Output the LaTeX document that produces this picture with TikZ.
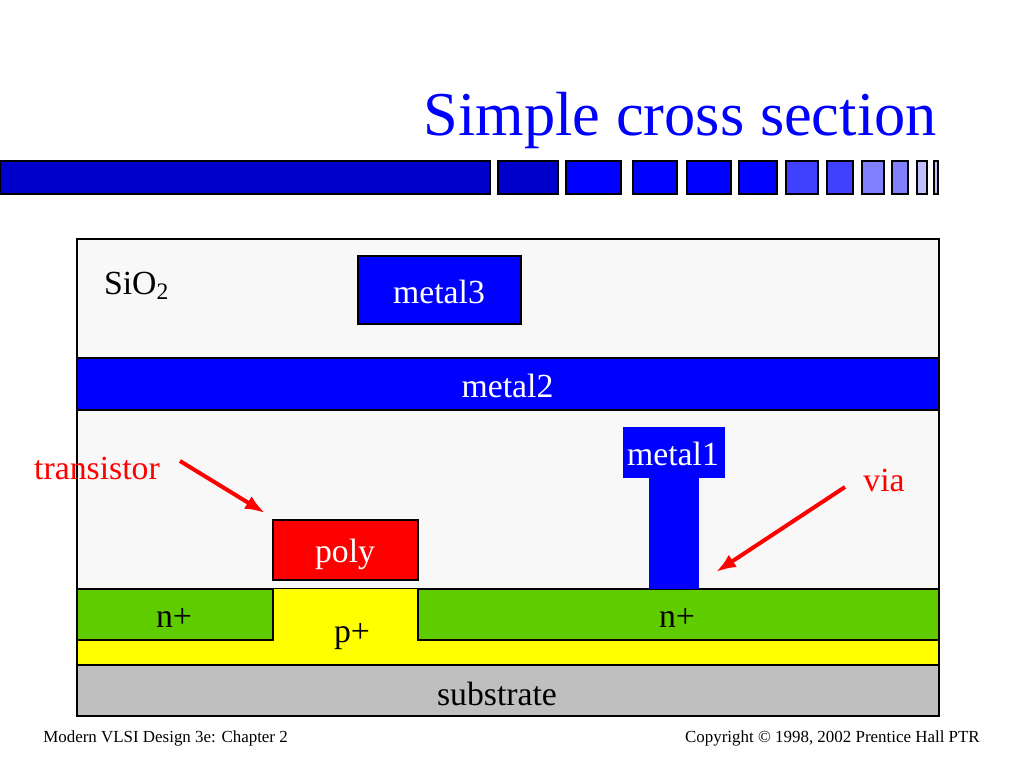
\documentclass[tikz,border=0pt]{standalone}
\usepackage{fontspec}
\setmainfont{Liberation Serif}
\usetikzlibrary{arrows.meta}
\definecolor{vlsiblue}{RGB}{0,0,255}
\definecolor{vlsinavy}{RGB}{0,0,204}
\definecolor{vlsimid}{RGB}{64,64,255}
\definecolor{vlsisoft}{RGB}{128,128,255}
\definecolor{vlsipale}{RGB}{191,191,255}
\definecolor{vlsigreen}{RGB}{95,204,0}
\definecolor{vlsigray}{RGB}{191,191,191}
\definecolor{vlsioxide}{RGB}{248,248,248}
\definecolor{vlsiyellow}{RGB}{255,255,0}
\definecolor{vlsired}{RGB}{255,0,0}
\tikzset{
  size/.style 2 args={minimum width={(#1)*0.75pt}, minimum height={(#2)*0.75pt}},
  layer/.style={rectangle, draw=black, line width=0.85pt, inner sep=0pt, outer sep=0pt},
  tag/.style={inner sep=0pt, font=\fontsize{25.3}{30}\selectfont},
  foot/.style={inner sep=0pt, font=\fontsize{12.7}{15}\selectfont},
  rarr/.style={-{Latex[length=15pt,width=11pt]}, line width=3pt, vlsired},
}

\begin{document}
\begin{tikzpicture}[x=0.75pt,y=-0.75pt]
  \useasboundingbox (0,0) rectangle (1024,768);
  \node[inner sep=0pt,text=vlsiblue,font=\fontsize{46.8}{56}\selectfont,anchor=east](title) at (937,120){Simple cross section};
  % strip under the title
  \foreach \l/\r/\c in {0.5/490/vlsinavy,498/558/vlsinavy,566/621/vlsiblue,633/677/vlsiblue,687/731/vlsiblue,739/777/vlsiblue,786/818/vlsimid,827/853/vlsimid,862/884/vlsisoft,892/908/vlsisoft,917/927/vlsipale,934/938/vlsipale}
    \node[layer,fill=\c,size={\r-\l}{33}](seg\l) at ({(\l+\r)/2},177.5){};
  % layers
  \node[layer,fill=vlsioxide,size={862}{477}](oxide) at (508,477.5){};
  \node[layer,fill=vlsiyellow,size={862}{77}](pdiff) at (508,627){};
  \node[layer,fill=vlsigreen,size={196}{51}](nleft) at (175,614.5){};
  \node[layer,fill=vlsigreen,size={521}{51}](nright) at (678.5,614.5){};
  \node[layer,fill=vlsigray,size={862}{51}](substrate) at (508,690.5){};
  \node[layer,fill=vlsiblue,size={862}{52}](metaltwo) at (508,384){};
  \node[layer,fill=vlsiblue,size={163}{68}](metalthree) at (439.5,290){};
  \node[layer,draw=none,fill=vlsiblue,size={50}{112}](via) at (674,532.5){};
  \node[layer,draw=none,fill=vlsiblue,size={102}{51}](metalone) at (674,452){};
  \node[layer,fill=vlsired,size={145}{60}](poly) at (345.5,550){};
  % labels
  \node[tag](oxidename) at (136.5,286){SiO\textsubscript{2}};
  \node[tag,text=white](metalthreename) at (439,292){metal3};
  \node[tag,text=white](metaltwoname) at (507.5,386){metal2};
  \node[tag,text=white](metalonename) at (673,454){metal1};
  \node[tag,text=white](polyname) at (345,554){poly};
  \node[tag](nleftname) at (174,618){n+};
  \node[tag](nrightname) at (677,618){n+};
  \node[tag](pname) at (352,637){p+};
  \node[tag](subname) at (497,694){substrate};
  \node[tag,text=vlsired](transistor) at (97,468){transistor};
  \node[tag,text=vlsired](vianame) at (884,480){via};
  \coordinate (transistorstart) at (180,461);
  \coordinate (transistorend) at (265,513);
  \coordinate (viastart) at (845,487);
  \coordinate (viaend) at (716,572);
  \draw[rarr](transistorstart)--(transistorend);
  \draw[rarr](viastart)--(viaend);
  % footer
  \node[foot,anchor=west](footleft) at (43,738){Modern VLSI Design 3e: Chapter 2};
  \node[foot,anchor=east](footright) at (980,738){Copyright © 1998, 2002 Prentice Hall PTR};
\end{tikzpicture}
\end{document}
